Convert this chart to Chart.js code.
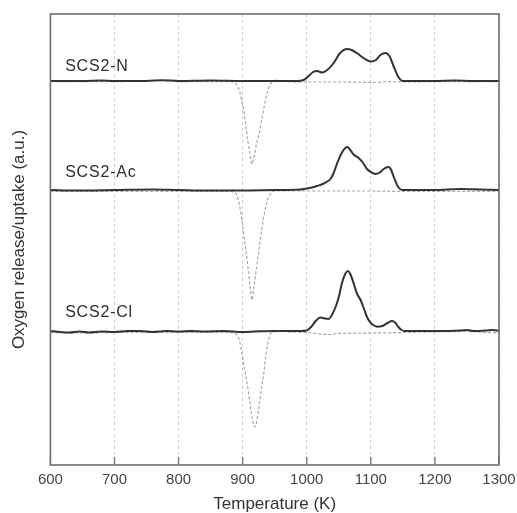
<!DOCTYPE html>
<html>
<head>
<meta charset="utf-8">
<script src="https://cdn.jsdelivr.net/npm/chart.js@4.4.0/dist/chart.umd.min.js"></script>
<style>
  html, body { margin: 0; padding: 0; background: #fff; }
  #wrap { width: 517px; height: 513px; position: relative; }
</style>
</head>
<body>
<div id="wrap"><canvas id="tprChart"></canvas></div>
<script>
// 各样品曲线的竖直偏移 (a.u.)
const offsetN = 384;
const offsetAc = 275;
const offsetCl = 134;

// 样品标签
const sampleLabels = ['SCS2-N', 'SCS2-Ac', 'SCS2-Cl'];
const labelTemps = [623, 623, 623];
const labelRise = [14, 17, 18];

// x 轴刻度
const tempTicks = [600, 700, 800, 900, 1000, 1100, 1200, 1300];

// SCS2-N 释放 (黑线)
const nReleaseT = [600, 650, 680, 700, 750, 775, 800, 850, 900, 950, 985, 995, 1003, 1010, 1016, 1024, 1032, 1042, 1052, 1063, 1070, 1078, 1091, 1100, 1108, 1115, 1123, 1129, 1136, 1143, 1150, 1200, 1230, 1260, 1300];
const nReleaseV = [0, 0, 0.5, 0, 0, 0.8, 0, 0.5, 0, 0, 0, 1, 5, 9, 10, 8.5, 11, 18, 28, 32, 31, 28, 22, 19.5, 21, 26, 28, 25, 14, 4, 0, 0, 0.5, 0, 0];
// SCS2-N 吸收 (灰线)
const nUptakeT = [600, 700, 770, 800, 880, 886, 891, 895, 899, 903, 907, 911, 914.6, 918, 922, 925, 930, 935, 940, 946, 951, 960, 1000, 1050, 1110, 1125, 1150, 1200, 1300];
const nUptakeV = [-0.7, -0.7, 0.5, -0.7, -0.7, -1.5, -4, -10, -21, -35, -55, -72, -83, -75, -62, -55, -38, -21, -8, -1, 1, 0, -1, -1, -1.5, -0.5, -1, -0.7, -0.7];

// SCS2-Ac 释放
const acReleaseT = [600, 640, 700, 760, 800, 850, 900, 950, 990, 998, 1008, 1016, 1025, 1032, 1037, 1042, 1047, 1055, 1063, 1068, 1073, 1081, 1088, 1094, 1100, 1107, 1114, 1120, 1127, 1131, 1136, 1143, 1149, 1200, 1240, 1270, 1300];
const acReleaseV = [0, -0.5, 0, 0.5, 0, -0.5, -0.5, 0, 0.5, 1.3, 2.5, 4, 6, 8.5, 11, 17, 26, 37.5, 43, 40, 35.5, 32, 27, 21, 18, 16, 17.5, 21, 23, 21, 12.7, 2.7, 0, 0, 1, 0.5, 0];
// SCS2-Ac 吸收
const acUptakeT = [600, 700, 800, 880, 886, 891, 895, 900.5, 905, 909, 912, 914.6, 917, 921, 925, 930, 935, 940, 946, 951, 1000, 1100, 1150, 1300];
const acUptakeV = [-1.5, -1.5, -1.5, -1.5, -2, -5, -15, -38, -60, -81, -98, -110, -100, -81, -62, -38, -20, -8, -2, -1, -1, -1, -1.5, -1.5];

// SCS2-Cl 释放
const clReleaseT = [600, 615, 630, 645, 660, 680, 700, 720, 740, 760, 780, 800, 820, 840, 870, 900, 920, 950, 990, 1000, 1008, 1014, 1021, 1028, 1034, 1040, 1045, 1050, 1055, 1060, 1064.4, 1068, 1073, 1078, 1084, 1090, 1094, 1100, 1105, 1110, 1118, 1126, 1133, 1138, 1143, 1148, 1153, 1200, 1240, 1250, 1260, 1280, 1290, 1300];
const clReleaseV = [0, -1, -1.5, -0.5, -1.5, -0.5, -1, 0, 0, -1, 0, -0.5, 0, -0.5, 0, -1, -0.5, 0, 0, 0.5, 5, 10, 13.5, 12.5, 12, 17, 24, 34, 48, 57, 60, 57, 48, 38, 31, 21, 14, 8, 5.5, 4.3, 5, 8, 10, 8.5, 4, 1, 0, 0, 0.5, 1, 0, 0.5, 1, 0];
// SCS2-Cl 吸收
const clUptakeT = [600, 650, 700, 800, 880, 885, 890, 895, 902.6, 907, 911, 915, 918.8, 922, 926.6, 930, 933, 937, 940, 943, 948, 960, 970, 1000, 1020, 1035, 1050, 1100, 1150, 1250, 1280, 1300];
const clUptakeV = [-1.5, -2, -1.5, -1.5, -1.5, -2, -3, -10, -37, -52, -70, -88, -96, -90, -70, -55, -42, -20, -10, -3, -1, 0, -1, -1.5, -3, -3.5, -2.5, -2, -1.5, -0.5, -1.5, -2];

const FONT = "'Liberation Sans', Arial, sans-serif";
const RELEASE_COLOR = '#333333';
const UPTAKE_COLOR = '#a6a6a6';

function toPoints(temps, values, offset) {
  return temps.map((t, i) => ({ x: t, y: values[i] + offset }));
}

function lineSet(temps, values, offset, release) {
  return {
    data: toPoints(temps, values, offset),
    borderColor: release ? RELEASE_COLOR : UPTAKE_COLOR,
    borderWidth: release ? 2 : 1.2,
    borderDash: release ? [] : [3, 2],
    pointRadius: 0,
    cubicInterpolationMode: 'monotone',
    fill: false,
    order: release ? 0 : 1
  };
}

// 外框、内向刻度和样品标签
const framePlugin = {
  id: 'frame',
  afterDraw(chart) {
    const { ctx, chartArea: a, scales } = chart;
    ctx.save();
    ctx.strokeStyle = '#6e6e6e';
    ctx.lineWidth = 1.6;
    ctx.strokeRect(a.left, a.top, a.right - a.left, a.bottom - a.top);
    ctx.lineWidth = 1.3;
    tempTicks.forEach(t => {
      const x = scales.x.getPixelForValue(t);
      ctx.beginPath();
      ctx.moveTo(x, a.bottom);
      ctx.lineTo(x, a.bottom - 8);
      ctx.stroke();
    });
    ctx.fillStyle = '#2e2e2e';
    ctx.font = '16px ' + FONT;
    ctx.letterSpacing = '0.8px';
    ctx.textBaseline = 'middle';
    ctx.textAlign = 'left';
    const offsets = [offsetN, offsetAc, offsetCl];
    sampleLabels.forEach((txt, i) => {
      const x = scales.x.getPixelForValue(labelTemps[i]);
      const y = scales.y.getPixelForValue(offsets[i] + labelRise[i]);
      ctx.fillText(txt, x, y);
    });
    ctx.restore();
  }
};

const ctx = document.getElementById('tprChart').getContext('2d');
new Chart(ctx, {
  type: 'line',
  data: {
    datasets: [
      lineSet(nReleaseT, nReleaseV, offsetN, true),
      lineSet(nUptakeT, nUptakeV, offsetN, false),
      lineSet(acReleaseT, acReleaseV, offsetAc, true),
      lineSet(acUptakeT, acUptakeV, offsetAc, false),
      lineSet(clReleaseT, clReleaseV, offsetCl, true),
      lineSet(clUptakeT, clUptakeV, offsetCl, false)
    ]
  },
  options: {
    responsive: true,
    maintainAspectRatio: false,
    animation: false,
    layout: { padding: { top: 14, right: 18, left: 0, bottom: 0 } },
    plugins: {
      legend: { display: false },
      tooltip: { enabled: false }
    },
    scales: {
      x: {
        type: 'linear',
        min: 600,
        max: 1300,
        afterBuildTicks: scale => {
          scale.ticks = tempTicks.map(v => ({ value: v }));
        },
        afterFit: scale => {
          scale.height = 48;
          scale.paddingLeft = 0;
          scale.paddingRight = 0;
        },
        ticks: {
          padding: 6,
          color: '#444',
          font: { family: FONT, size: 15 },
          callback: v => String(v)
        },
        grid: {
          drawTicks: false,
          color: '#cfcfcf',
          lineWidth: 1
        },
        border: { display: false, dash: [3, 3] },
        title: {
          display: true,
          text: 'Temperature (K)',
          color: '#333',
          font: { family: FONT, size: 17 },
          padding: { top: 1, bottom: -2 }
        }
      },
      y: {
        min: 0,
        max: 451,
        ticks: { display: false },
        grid: { display: false, drawTicks: false },
        border: { display: false },
        title: {
          display: true,
          text: 'Oxygen release/uptake (a.u.)',
          color: '#333',
          font: { family: FONT, size: 17 },
          padding: { top: 9, bottom: 21 }
        }
      }
    }
  },
  plugins: [framePlugin]
});
</script>
</body>
</html>
